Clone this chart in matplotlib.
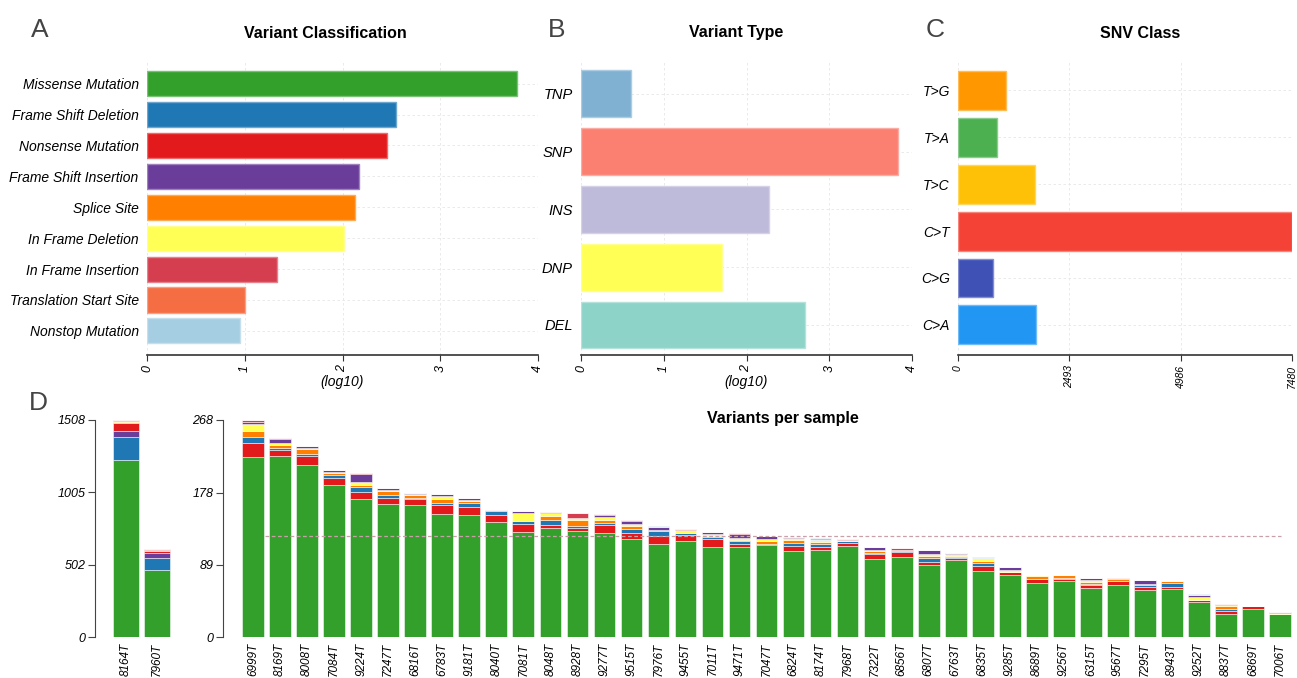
import numpy as np
import matplotlib
matplotlib.use("Agg")
import matplotlib.pyplot as plt

plt.rcParams['font.family'] = ['Liberation Sans', 'DejaVu Sans']

# panel A: variant classification (log10 counts)
vcNames = ['Missense Mutation', 'Frame Shift Deletion', 'Nonsense Mutation',
           'Frame Shift Insertion', 'Splice Site', 'In Frame Deletion',
           'In Frame Insertion', 'Translation Start Site', 'Nonstop Mutation']
vcLog = [3.785, 2.55, 2.46, 2.17, 2.13, 2.02, 1.33, 1.00, 0.95]

# panel B: variant type (log10 counts)
vtNames = ['TNP', 'SNP', 'INS', 'DNP', 'DEL']
vtLog = [0.60, 3.83, 2.27, 1.70, 2.71]

# panel C: SNV class counts
snvNames = ['T>G', 'T>A', 'T>C', 'C>T', 'C>G', 'C>A']
snvCounts = [1075, 873, 1724, 7480, 784, 1747]

# panel D: variants per sample, split by classification
bigSamples = ['8164T', '7960T']
bigMissense = [1230, 468]
bigFsDel = [158, 83]
bigFsIns = [44, 30]
bigNonsense = [53, 16]
bigSplice = [10, 7]
bigIfDel = [8, 4]
bigIfIns = [5, 3]
bigTss = [0, 0]
bigNonstop = [0, 0]

samples = ['6999T', '8169T', '8008T', '7084T', '9224T', '7247T', '6816T', '6783T',
           '9181T', '8040T', '7081T', '8048T', '8928T', '9277T', '9515T', '7976T',
           '9455T', '7011T', '9471T', '7047T', '6824T', '8174T', '7968T', '7322T',
           '6856T', '6807T', '6763T', '6835T', '9285T', '8689T', '9256T', '6315T',
           '9567T', '7295T', '8943T', '9252T', '8837T', '6869T', '7006T']
missense = [222, 224, 212, 188, 171, 164, 163, 152, 151, 142, 130, 135, 131, 128, 121, 115,
            119, 111, 111, 114, 106, 107, 113, 96, 99, 89, 95, 81, 77, 67, 69, 61,
            64, 58, 59, 43, 29, 35, 28]
nonsense = [17, 7, 11, 8, 8, 8, 7, 11, 9, 9, 9, 3, 4, 10, 7, 10,
            7, 10, 4, 1, 7, 4, 3, 6, 6, 4, 3, 7, 3, 5, 3, 3,
            5, 4, 3, 3, 3, 3, 1]
fsDel = [8, 3, 3, 4, 6, 3, 2, 3, 6, 4, 4, 7, 2, 3, 6, 6,
         2, 3, 3, 0, 3, 4, 2, 2, 1, 5, 1, 3, 0, 0, 1, 2,
         0, 2, 5, 0, 2, 0, 0]
splice = [8, 3, 6, 3, 3, 5, 3, 5, 2, 1, 0, 5, 8, 4, 3, 1,
          1, 1, 2, 4, 4, 2, 1, 2, 1, 2, 1, 3, 0, 3, 3, 2,
          3, 1, 2, 0, 4, 0, 0]
ifDel = [8, 3, 2, 1, 3, 1, 2, 3, 1, 0, 10, 3, 2, 3, 3, 0,
         3, 2, 2, 2, 2, 3, 1, 2, 1, 2, 3, 3, 3, 2, 0, 2,
         0, 1, 0, 4, 1, 0, 1]
fsIns = [3, 4, 2, 2, 10, 3, 1, 2, 3, 0, 2, 0, 0, 3, 3, 4,
         0, 3, 5, 4, 2, 0, 0, 3, 0, 5, 1, 1, 3, 0, 0, 3,
         0, 5, 0, 2, 0, 0, 1]
ifIns = [2, 2, 0, 0, 2, 0, 0, 0, 0, 1, 0, 1, 6, 1, 2, 0,
         1, 0, 1, 0, 0, 0, 1, 0, 2, 1, 0, 0, 0, 0, 0, 0,
         0, 0, 0, 0, 2, 0, 0]
tss = [0, 0, 0, 0, 0, 0, 0, 0, 0, 0, 0, 0, 0, 0, 0, 0,
       0, 0, 0, 0, 0, 0, 0, 0, 0, 0, 0, 0, 0, 0, 0, 0,
       1, 0, 0, 0, 0, 0, 0]
nonstop = [0, 0, 0, 0, 0, 0, 0, 0, 0, 0, 1, 0, 0, 0, 0, 1,
           0, 0, 0, 0, 0, 2, 0, 0, 0, 0, 0, 1, 0, 0, 0, 0,
           0, 0, 0, 1, 0, 0, 0]

vcColors = {
    'Missense Mutation': '#33A02C', 'Frame Shift Deletion': '#1F78B4',
    'Nonsense Mutation': '#E31A1C', 'Frame Shift Insertion': '#6A3D9A',
    'Splice Site': '#FF7F00', 'In Frame Deletion': '#FFFF55',
    'In Frame Insertion': '#D53E4F', 'Translation Start Site': '#F46D43',
    'Nonstop Mutation': '#A6CEE3'}
vtColors = ['#80B1D3', '#FB8072', '#BEBADA', '#FFFF55', '#8DD3C7']
snvColors = ['#FF9800', '#4CAF50', '#FFC107', '#F44336', '#3F51B5', '#2196F3']

W, H = 1297, 678
fig = plt.figure(figsize=(W / 100, H / 100), dpi=100)


def axRect(x0, y0, x1, y1):
    return fig.add_axes([x0 / W, 1 - y1 / H, (x1 - x0) / W, (y1 - y0) / H])


def styleHbar(ax, labels):
    for s in ['top', 'right', 'left']:
        ax.spines[s].set_visible(False)
    ax.spines['bottom'].set_color('#333333')
    ax.spines['bottom'].set_linewidth(1.2)
    ax.set_yticks(range(len(labels)))
    ax.set_yticklabels(labels, fontstyle='italic', fontsize=10)
    ax.tick_params(axis='y', length=0, pad=6)
    ax.tick_params(axis='x', length=4, color='#333333', labelsize=9, labelrotation=90)
    for lab in ax.get_xticklabels():
        lab.set_fontstyle('italic')
    ax.grid(True, color='#e6e6e6', linestyle=(0, (3, 3)), linewidth=0.6)
    ax.set_axisbelow(True)


def lighter(c, amt=0.35):
    rgb = np.array(matplotlib.colors.to_rgb(c))
    return tuple(rgb + (1 - rgb) * amt)


# ---- A
axA = axRect(147, 62, 538, 355)
yA = np.arange(len(vcNames))
axA.barh(yA, vcLog, height=0.81, color=[vcColors[n] for n in vcNames],
         edgecolor=[lighter(vcColors[n]) for n in vcNames], linewidth=1)
axA.set_xlim(0, 4)
axA.set_ylim(8.78, -0.7)
axA.set_xticks([0, 1, 2, 3, 4])
styleHbar(axA, vcNames)
axA.set_xlabel('(log10)', fontstyle='italic', fontsize=10, labelpad=2)

# ---- B
axB = axRect(581, 62, 912, 355)
yB = np.arange(len(vtNames))
axB.barh(yB, vtLog, height=0.81, color=vtColors,
         edgecolor=[lighter(c) for c in vtColors], linewidth=1)
axB.set_xlim(0, 4)
axB.set_ylim(4.52, -0.55)
axB.set_xticks([0, 1, 2, 3, 4])
styleHbar(axB, vtNames)
axB.tick_params(axis='y', labelsize=10.5)
axB.set_xlabel('(log10)', fontstyle='italic', fontsize=10, labelpad=2)

# ---- C
axC = axRect(958, 62, 1292, 355)
yC = np.arange(len(snvNames))
axC.barh(yC, snvCounts, height=0.83, color=snvColors,
         edgecolor=[lighter(c) for c in snvColors], linewidth=1)
snvMax = max(snvCounts)
axC.set_xlim(0, snvMax)
axC.set_ylim(5.64, -0.6)
axC.set_xticks([int(v) for v in np.linspace(0, snvMax, 4)])
styleHbar(axC, snvNames)
axC.tick_params(axis='x', labelsize=7.5)

# ---- D (left, high-burden samples)
axL = axRect(95, 420, 185, 637)
bigStack = [('Missense Mutation', bigMissense), ('Frame Shift Deletion', bigFsDel),
            ('Frame Shift Insertion', bigFsIns), ('Nonsense Mutation', bigNonsense),
            ('Splice Site', bigSplice), ('In Frame Deletion', bigIfDel),
            ('In Frame Insertion', bigIfIns), ('Translation Start Site', bigTss),
            ('Nonstop Mutation', bigNonstop)]
xL = np.arange(len(bigSamples))
bottom = np.zeros(len(bigSamples))
for name, vals in bigStack:
    axL.bar(xL, vals, bottom=bottom, width=0.83, color=vcColors[name],
            edgecolor=(1, 1, 1, 0.6), linewidth=0.6)
    bottom += np.array(vals)
bigMax = bottom.max()
axL.set_ylim(0, bigMax)
axL.set_xlim(-0.99, 1.9)

# ---- D (right, remaining samples)
axR = axRect(223, 420, 1295, 637)
smallStack = [('Missense Mutation', missense), ('Nonsense Mutation', nonsense),
              ('Frame Shift Deletion', fsDel), ('Splice Site', splice),
              ('In Frame Deletion', ifDel), ('Frame Shift Insertion', fsIns),
              ('In Frame Insertion', ifIns), ('Translation Start Site', tss),
              ('Nonstop Mutation', nonstop)]
xR = np.arange(len(samples))
bottom = np.zeros(len(samples))
for name, vals in smallStack:
    axR.bar(xR, vals, bottom=bottom, width=0.8, color=vcColors[name],
            edgecolor=(1, 1, 1, 0.6), linewidth=0.6)
    bottom += np.array(vals)
smallMax = bottom.max()
axR.set_ylim(0, smallMax)
axR.set_xlim(-1.11, 38.55)
medianVal = np.median(bottom)
axR.hlines(medianVal, 0.45, 38.05, colors='#c9a0a8', linestyles=(0, (3, 2)), linewidth=0.9)

for ax, names, top in [(axL, bigSamples, bigMax), (axR, samples, smallMax)]:
    for s in ['top', 'right', 'bottom']:
        ax.spines[s].set_visible(False)
    ax.spines['left'].set_color('#444444')
    ticks = np.floor(np.linspace(0, top, 4)).astype(int)
    ax.set_yticks(ticks)
    ax.set_yticklabels([str(t) for t in ticks], fontstyle='italic', fontsize=9)
    ax.spines['left'].set_bounds(0, top)
    ax.tick_params(axis='y', length=5, color='#444444', pad=2)
    ax.set_xticks(range(len(names)))
    ax.set_xticklabels(names, rotation=90, fontstyle='italic', fontsize=8.5)
    ax.tick_params(axis='x', length=0, pad=4)

# titles and panel letters
fig.text(325 / W, 1 - 33 / H, 'Variant Classification', ha='center', va='center',
         fontsize=11.5, fontweight='bold')
fig.text(736 / W, 1 - 33 / H, 'Variant Type', ha='center', va='center',
         fontsize=11.5, fontweight='bold')
fig.text(1140 / W, 1 - 33 / H, 'SNV Class', ha='center', va='center',
         fontsize=11.5, fontweight='bold')
fig.text(783 / W, 1 - 418 / H, 'Variants per sample', ha='center', va='center',
         fontsize=11.5, fontweight='bold')
for letter, px, py in [('A', 40, 30), ('B', 557, 30), ('C', 935, 30), ('D', 38, 403)]:
    fig.text(px / W, 1 - py / H, letter, ha='center', va='center', fontsize=19,
             color='#444444')

fig.savefig('out.png', dpi=100)
